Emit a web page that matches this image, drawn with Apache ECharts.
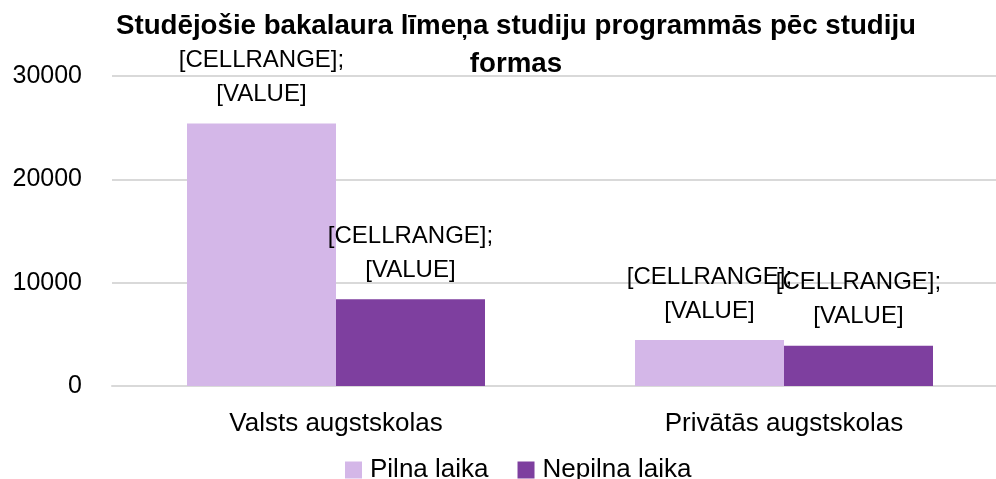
<!DOCTYPE html>
<html>
<head><meta charset="utf-8"></head>
<script type="text/javascript" src="https://cdn.jsdelivr.net/npm/echarts@6/dist/echarts.min.js"></script>
<body style="margin:0;background-color:white;">
<div id="main" style="width: 996px;height:479px;"></div>
</body>
<script>
var categories = ['Valsts augstskolas', 'Privātās augstskolas']
var seriesNames = ['Pilna laika', 'Nepilna laika']
var pilnaLaika = [25400, 4440]
var nepilnaLaika = [8400, 3890]
var labelText = '[CELLRANGE];\n[VALUE]'
var colors = ['#D4B7E8', '#7E3F9F']

var font = 'Liberation Sans'
var myChart = echarts.init(document.getElementById('main'))

function barSeries(name, data, color) {
    return {
        name: name,
        type: 'bar',
        data: data,
        barWidth: 149,
        barGap: '0%',
        itemStyle: { color: color },
        label: {
            show: true,
            position: 'top',
            distance: 12,
            formatter: labelText,
            fontFamily: font,
            fontSize: 24,
            lineHeight: 34,
            color: '#000'
        }
    }
}

var option = {
    animation: false,
    title: {
        text: 'Studējošie bakalaura līmeņa studiju programmās pēc studiju\nformas',
        left: 511,
        textAlign: 'center',
        top: 2,
        textStyle: {
            fontFamily: font,
            fontWeight: 'bold',
            fontSize: 27.7,
            lineHeight: 38,
            color: '#000'
        }
    },
    legend: {
        top: 452,
        left: 340,
        itemWidth: 17,
        itemHeight: 17,
        itemGap: 29,
        icon: 'rect',
        textStyle: { fontFamily: font, fontSize: 26, color: '#000', padding: [0, 0, 0, 3] },
        data: seriesNames
    },
    grid: { left: 112, top: 76, width: 896, height: 310, outerBoundsMode: 'none' },
    xAxis: {
        type: 'category',
        data: categories,
        axisLine: { lineStyle: { color: '#D9D9D9', width: 2 } },
        axisTick: { show: false },
        axisLabel: { fontFamily: font, fontSize: 26, color: '#000', margin: 25 }
    },
    yAxis: {
        type: 'value',
        min: 0,
        max: 30000,
        interval: 10000,
        axisLine: { show: false },
        axisTick: { show: false },
        splitLine: { lineStyle: { color: '#D9D9D9', width: 2 } },
        axisLabel: {
            fontFamily: font, fontSize: 25, color: '#000', margin: 30,
            formatter: function (v) { return String(v) }
        }
    },
    series: [
        barSeries(seriesNames[0], pilnaLaika, colors[0]),
        barSeries(seriesNames[1], nepilnaLaika, colors[1])
    ]
}

myChart.setOption(option)
</script>
</html>
